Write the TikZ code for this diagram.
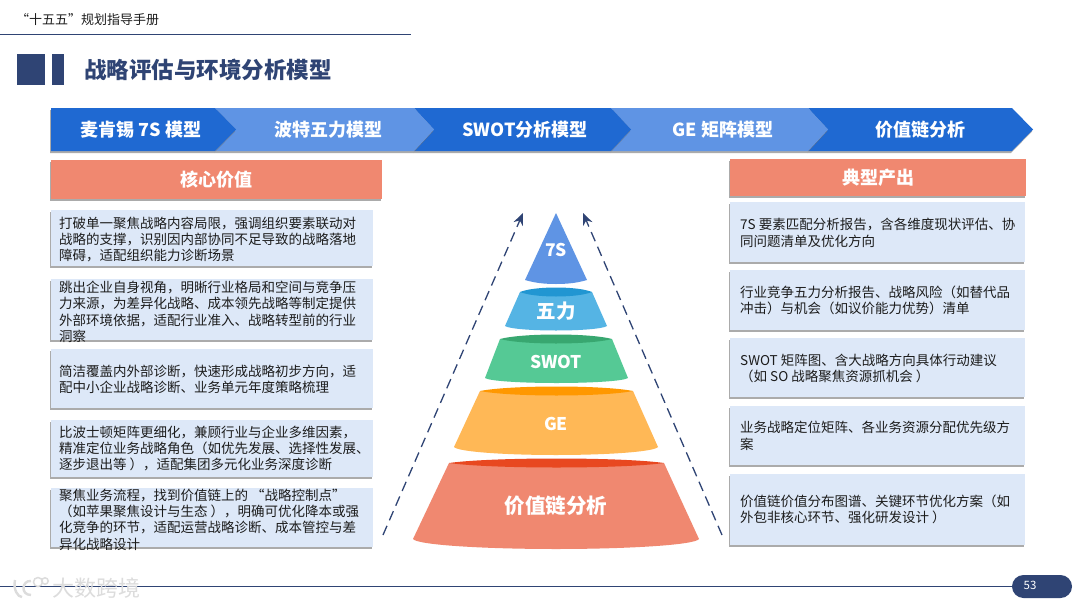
\documentclass[tikz,border=0pt]{standalone}
\usepackage{fontspec}
\setmainfont{Noto Sans CJK SC}
\usetikzlibrary{shadows,arrows.meta}
\definecolor{navy}{HTML}{2F4474}
\definecolor{bluedark}{HTML}{1F69D2}
\definecolor{bluelight}{HTML}{5F94E4}
\definecolor{salmon}{HTML}{F08870}
\definecolor{boxfill}{HTML}{DDE8F8}
\definecolor{inktext}{HTML}{1C1C1C}
\definecolor{skyside}{HTML}{55B4E4}
\definecolor{skytop}{HTML}{2196D2}
\definecolor{greenside}{HTML}{55C995}
\definecolor{greentop}{HTML}{38A770}
\definecolor{orangeside}{HTML}{FFB856}
\definecolor{orangetop}{HTML}{FF9800}
\definecolor{redtop}{HTML}{E84820}
\definecolor{wmark}{HTML}{DCDCDC}
\tikzset{
  softshadow/.style={drop shadow={shadow xshift=-1pt,shadow yshift=-2pt,fill=black!55,opacity=.6}},
  chev/.style={softshadow},
  chevlabel/.style={font=\fontsize{18}{20}\selectfont\bfseries,text=white,inner sep=0pt},
  headbox/.style={fill=salmon,draw=none,softshadow,font=\fontsize{18}{20}\selectfont\bfseries,text=white,align=center,inner sep=0pt},
  txtbox/.style={fill=boxfill,draw=none,softshadow,inner sep=0pt},
  body/.style={font=\fontsize{13.5}{16.4}\selectfont,text=inktext,align=left,anchor=west,inner sep=0pt},
  pyrlabel/.style={font=\bfseries,text=white,inner sep=0pt},
  flow/.style={draw=navy,line width=1.3pt,dash pattern=on 10pt off 6pt,-{Stealth[length=12pt,width=10pt]}},
}
\newcommand{\boxat}[5]{\node[txtbox,minimum width=#3pt-#2pt,minimum height=#5pt-#4pt] (#1) at ({(#2+#3)/2},{(#4+#5)/2}) {};}
\newcommand{\frustum}[9]{%
  \fill[#1] (#4,#3) -- (#7,#6) .. controls ({#7+4},{#6+#9*.6}) and ({(#7+#8)/2-(#8-#7)*.25},{#6+#9}) .. ({(#7+#8)/2},{#6+#9}) .. controls ({(#7+#8)/2+(#8-#7)*.25},{#6+#9}) and ({#8-4},{#6+#9*.6}) .. (#8,#6) -- (#5,#3) -- cycle;
  \fill[#2] (#4,#3) .. controls ({#4+(#5-#4)*.2},{#3-6}) and ({#5-(#5-#4)*.2},{#3-6}) .. (#5,#3) .. controls ({#5-(#5-#4)*.2},{#3+6}) and ({#4+(#5-#4)*.2},{#3+6}) .. (#4,#3) -- cycle;
}
\begin{document}
\begin{tikzpicture}[x=1pt,y=-1pt]
\useasboundingbox (0,0) rectangle (1080,608);
\fill[white] (0,0) rectangle (1080,608);
% page head
\node[anchor=west,inner sep=0pt,font=\fontsize{13}{15}\selectfont,text=inktext] (doc) at (16,20) {“十五五”规划指导手册};
\coordinate (ruleA) at (0,34); \coordinate (ruleB) at (411,34);
\draw[navy,line width=.9pt] (ruleA) -- (ruleB);
\fill[navy] (17,54) rectangle (45,85);
\fill[navy] (52,54) rectangle (64,85);
\node[anchor=west,inner sep=0pt,font=\fontsize{22.5}{26}\selectfont\bfseries,text=navy] (title) at (84,70) {战略评估与环境分析模型};
% chevrons
\path[chev,fill=bluedark] (1012,108) -- (1033,129.5) -- (1012,151) -- (808,151) -- (828,129.5) -- (808,108) -- cycle;
\path[chev,fill=bluelight] (808,108) -- (828,129.5) -- (808,151) -- (611,151) -- (631,129.5) -- (611,108) -- cycle;
\path[chev,fill=bluedark] (611,108) -- (631,129.5) -- (611,151) -- (414,151) -- (434,129.5) -- (414,108) -- cycle;
\path[chev,fill=bluelight] (414,108) -- (434,129.5) -- (414,151) -- (215,151) -- (236,129.5) -- (215,108) -- cycle;
\path[chev,fill=bluedark] (51,108) -- (215,108) -- (236,129.5) -- (215,151) -- (51,151) -- cycle;
\node[chevlabel] (c1) at (141,129.5) {麦肯锡 7S 模型};
\node[chevlabel] (c2) at (328,129.5) {波特五力模型};
\node[chevlabel] (c3) at (525,129.5) {SWOT分析模型};
\node[chevlabel] (c4) at (723,129.5) {GE 矩阵模型};
\node[chevlabel] (c5) at (920,129.5) {价值链分析};
% headers
\node[headbox,minimum width=331pt,minimum height=39pt] (hl) at (216,179.5) {核心价值};
\node[headbox,minimum width=296pt,minimum height=37pt] (hr) at (878,177.5) {典型产出};
% left boxes
\boxat{l1}{51}{373}{210}{266}
\boxat{l2}{51}{373}{279}{340}
\boxat{l3}{51}{373}{349}{408}
\boxat{l4}{51}{373}{420}{477}
\boxat{l5}{51}{373}{488}{547}
\node[body] (lt1) at (59,239.5) {打破单一聚焦战略内容局限，强调组织要素联动对\\战略的支撑，识别因内部协同不足导致的战略落地\\障碍，适配组织能力诊断场景};
\node[body] (lt2) at (59,312) {跳出企业自身视角，明晰行业格局和空间与竞争压\\力来源，为差异化战略、成本领先战略等制定提供\\外部环境依据，适配行业准入、战略转型前的行业\\洞察};
\node[body] (lt3) at (59,379.5) {简洁覆盖内外部诊断，快速形成战略初步方向，适\\配中小企业战略诊断、业务单元年度策略梳理};
\node[body] (lt4) at (59,448.5) {比波士顿矩阵更细化，兼顾行业与企业多维因素，\\精准定位业务战略角色（如优先发展、选择性发展、\\逐步退出等 ），适配集团多元化业务深度诊断};
\node[body] (lt5) at (59,519.5) {聚焦业务流程，找到价值链上的 “战略控制点”\\（如苹果聚焦设计与生态 ），明确可优化降本或强\\化竞争的环节，适配运营战略诊断、成本管控与差\\异化战略设计};
% right boxes
\boxat{r1}{730}{1025}{202}{262}
\boxat{r2}{730}{1025}{270}{330}
\boxat{r3}{730}{1025}{338}{397}
\boxat{r4}{730}{1025}{406}{465}
\boxat{r5}{730}{1025}{474}{545}
\node[body] (rt1) at (740,233) {7S 要素匹配分析报告，含各维度现状评估、协\\同问题清单及优化方向};
\node[body] (rt2) at (740,300.5) {行业竞争五力分析报告、战略风险（如替代品\\冲击）与机会（如议价能力优势）清单};
\node[body] (rt3) at (740,368.5) {SWOT 矩阵图、含大战略方向具体行动建议\\（如 SO 战略聚焦资源抓机会 ）};
\node[body] (rt4) at (740,436) {业务战略定位矩阵、各业务资源分配优先级方\\案};
\node[body] (rt5) at (740,509.5) {价值链价值分布图谱、关键环节优化方案（如\\外包非核心环节、强化研发设计 ）};
% pyramid
\fill[bluelight] (556,213) -- (525,280) .. controls (535,283) and (545,284) .. (556,284) .. controls (567,284) and (577,283) .. (587,280) -- cycle;
\frustum{skyside}{skytop}{292}{520}{592}{326}{505}{607}{4.5}
\frustum{greenside}{greentop}{339}{500}{612}{378}{485}{628}{5}
\frustum{orangeside}{orangetop}{391}{480}{633}{447}{454}{658}{8}
\frustum{salmon}{redtop}{463}{449}{664}{539}{413}{699}{10}
\node[pyrlabel,font=\fontsize{17.5}{20}\selectfont\bfseries] (p1) at (556,250) {7S};
\node[pyrlabel,font=\fontsize{19.5}{22}\selectfont\bfseries] (p2) at (556,311) {五力};
\node[pyrlabel,font=\fontsize{17.5}{20}\selectfont\bfseries] (p3) at (556,362) {SWOT};
\node[pyrlabel,font=\fontsize{17.5}{20}\selectfont\bfseries] (p4) at (556,424) {GE};
\node[pyrlabel,font=\fontsize{20.5}{24}\selectfont\bfseries] (p5) at (556,506) {价值链分析};
% dashed arrows
\coordinate (al0) at (383,535); \coordinate (al1) at (523,213);
\coordinate (ar0) at (722,535); \coordinate (ar1) at (583,213);
\draw[flow] (al0) -- (al1);
\draw[flow] (ar0) -- (ar1);
% footer
\coordinate (footA) at (0,586); \coordinate (footB) at (1015,586);
\draw[navy,line width=.9pt] (footA) -- (footB);
\node[fill=navy,rounded corners=11.5pt,minimum width=60pt,minimum height=23pt,inner sep=0pt] (pill) at (1042,586.5) {};
\node[inner sep=0pt,text=white,font=\fontsize{11.5}{13}\selectfont] (page) at (1030,585) {53};
% watermark
\node[anchor=west,inner sep=0pt,text=wmark,font=\fontsize{22}{24}\selectfont] (wm) at (52,588) {大数跨境};
\draw[wmark,line width=2.4pt] (15,580) .. controls (13,590) and (18,597) .. (22,597);
\draw[wmark,line width=2.4pt] (31,581) .. controls (22,580) and (20,595) .. (31,595);
\draw[wmark,line width=1.5pt] (38,582) circle (4.5pt);
\draw[wmark,line width=1.5pt] (45,581) circle (3.2pt);
\end{tikzpicture}
\end{document}
